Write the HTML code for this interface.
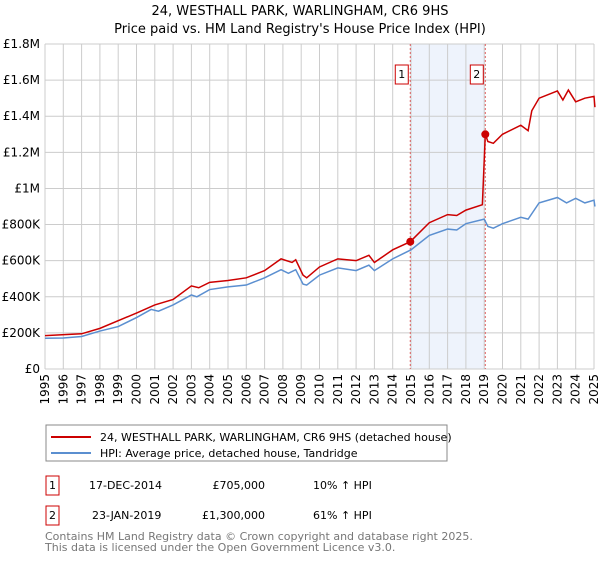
<!DOCTYPE html>
<html><head><meta charset="utf-8"><style>
body{margin:0;background:#fff;font-family:"Liberation Sans","DejaVu Sans",sans-serif;}
svg text{font-family:"DejaVu Sans","Liberation Sans",sans-serif;}
</style></head><body>
<svg id="c" width="600" height="560" xmlns="http://www.w3.org/2000/svg">
<text x="300" y="15" text-anchor="middle" font-size="13">24, WESTHALL PARK, WARLINGHAM, CR6 9HS</text>
<text x="300" y="33" text-anchor="middle" font-size="13">Price paid vs. HM Land Registry's House Price Index (HPI)</text>
<g id="grid"></g><g id="plot"></g>
<rect x="46" y="425" width="401" height="36" fill="#fff" stroke="#888"/>
<line x1="51" y1="437" x2="91" y2="437" stroke="#cc0000" stroke-width="2"/>
<text x="100" y="441" font-size="11">24, WESTHALL PARK, WARLINGHAM, CR6 9HS (detached house)</text>
<line x1="51" y1="453" x2="91" y2="453" stroke="#5b8fd0" stroke-width="2"/>
<text x="100" y="457" font-size="11">HPI: Average price, detached house, Tandridge</text>
<g font-size="11">
<rect x="46" y="476" width="13" height="19" fill="none" stroke="#cc0000"/>
<text x="52.5" y="489" text-anchor="middle">1</text>
<text x="89" y="489">17-DEC-2014</text>
<text x="265" y="489" text-anchor="end">£705,000</text>
<text x="313" y="489">10% ↑ HPI</text>
<rect x="46" y="506" width="13" height="19" fill="none" stroke="#cc0000"/>
<text x="52.5" y="519" text-anchor="middle">2</text>
<text x="92" y="519">23-JAN-2019</text>
<text x="265" y="519" text-anchor="end">£1,300,000</text>
<text x="313" y="519">61% ↑ HPI</text>
</g>
<text x="45" y="540" font-size="11" fill="#777">Contains HM Land Registry data © Crown copyright and database right 2025.</text>
<text x="45" y="551" font-size="11" fill="#777">This data is licensed under the Open Government Licence v3.0.</text>
</svg>
<script>
const yTicks=[0,200,400,600,800,1000,1200,1400,1600,1800];
const yTickLabels=["£0","£200K","£400K","£600K","£800K","£1M","£1.2M","£1.4M","£1.6M","£1.8M"];
const years=[1995,1996,1997,1998,1999,2000,2001,2002,2003,2004,2005,2006,2007,2008,2009,2010,2011,2012,2013,2014,2015,2016,2017,2018,2019,2020,2021,2022,2023,2024,2025];
const hpiX=[1995,1996,1997,1998,1999,2000,2000.8,2001.2,2002,2003,2003.3,2004,2005,2006,2007,2007.9,2008.3,2008.7,2009.1,2009.3,2010,2011,2012,2012.7,2013,2014,2015,2016,2017,2017.5,2018,2019,2019.2,2019.5,2020,2021,2021.4,2022,2023,2023.5,2024,2024.5,2025,2025.05];
const hpiY=[170,172,180,210,235,285,330,320,355,410,400,440,455,465,505,550,530,550,470,465,520,560,545,575,545,610,660,740,775,770,805,830,790,780,805,840,830,920,950,920,945,920,935,900];
const priceX=[1995,1997,1998,2000,2001,2002,2003,2003.4,2004,2005,2006,2007,2007.9,2008.5,2008.7,2009.1,2009.3,2010,2011,2012,2012.7,2013,2014,2014.96,2016,2017,2017.5,2018,2018.9,2019.06,2019.2,2019.5,2020,2021,2021.4,2021.6,2022,2023,2023.3,2023.6,2024,2024.5,2025,2025.05];
const priceY=[185,195,225,310,355,385,460,450,480,490,505,545,610,590,605,520,505,565,610,600,630,590,660,705,810,855,850,880,910,1300,1260,1250,1300,1350,1320,1430,1500,1540,1490,1545,1480,1500,1510,1450];
const saleX=[2014.96,2019.06];
const saleY=[705,1300];
const saleLabels=["1","2"];
const X0=45,X1=594,Y0=369,Y1=44;
const xs=t=>X0+(t-1995)/30*(X1-X0);
const ys=v=>Y0-v/1800*(Y0-Y1);
const NS="http://www.w3.org/2000/svg";
const grid=document.getElementById('grid'),plot=document.getElementById('plot');
function mk(tag,attrs,parent){const e=document.createElementNS(NS,tag);for(const k in attrs)e.setAttribute(k,attrs[k]);parent.appendChild(e);return e;}
mk('rect',{x:X0,y:Y1,width:X1-X0,height:Y0-Y1,fill:'#fff'},grid);
const sh=mk('rect',{x:xs(saleX[0]),y:Y1,width:xs(saleX[1])-xs(saleX[0]),height:Y0-Y1,fill:'#eef3fc'},grid);


years.forEach(y=>{
 const l=mk('line',{x1:xs(y),x2:xs(y),y1:Y1,y2:Y0,stroke:'#ccc','stroke-width':1},grid);
 
 
 const t=mk('text',{transform:`translate(${xs(y)+4},${Y0+5}) rotate(-90)`,'text-anchor':'end','font-size':12},grid);
 t.textContent=y;
 
 
});
yTicks.forEach((v,i)=>{
 const l=mk('line',{x1:X0,x2:X1,y1:ys(v),y2:ys(v),stroke:'#ccc','stroke-width':1},grid);
 
 
 const t=mk('text',{x:X0-5,y:ys(v)+4,'text-anchor':'end','font-size':12},grid);
 t.textContent=yTickLabels[i];
 
 
});
saleX.forEach((s,i)=>{
 const l=mk('line',{x1:xs(s),x2:xs(s),y1:Y1,y2:Y0,stroke:'#e06060','stroke-dasharray':'2,2','stroke-width':1},plot);
 
 
});
const hp=mk('polyline',{points:hpiX.map((x,i)=>xs(x)+','+ys(hpiY[i])).join(' '),fill:'none',stroke:'#5b8fd0','stroke-width':1.5},plot);


const pp=mk('polyline',{points:priceX.map((x,i)=>xs(x)+','+ys(priceY[i])).join(' '),fill:'none',stroke:'#cc0000','stroke-width':1.5},plot);


saleX.forEach((s,i)=>{
 const c=mk('circle',{cx:xs(s),cy:ys(saleY[i]),r:4,fill:'#cc0000'},plot);
 
 
 const b=mk('rect',{x:xs(s)-15,y:65,width:13,height:19,fill:'#fff',stroke:'#cc0000'},plot);
 
 
 const t=mk('text',{x:xs(s)-8.5,y:78,'text-anchor':'middle','font-size':11},plot);
 t.textContent=saleLabels[i];
 
 
});
</script>
</body></html>
